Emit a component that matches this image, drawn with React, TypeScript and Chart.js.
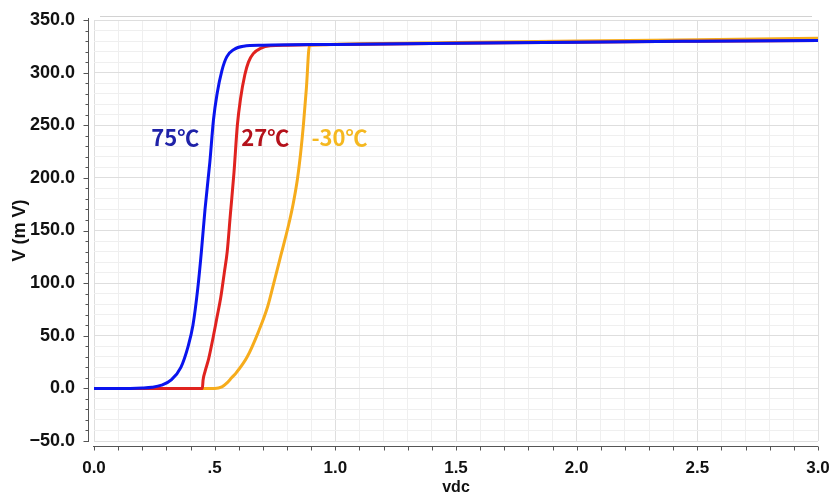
import React, { useEffect, useRef } from "react";
import { Chart, registerables } from "chart.js";

Chart.register(...registerables);

// 75°C curve (vdc [V], V [mV])
const blueX = [0, 0.15, 0.2, 0.24, 0.28, 0.32, 0.36, 0.39, 0.41, 0.43, 0.445, 0.46, 0.48, 0.495, 0.51, 0.53, 0.55, 0.58, 0.62, 0.7, 1.0, 1.5, 2.0, 2.5, 3.0];
const blueY = [0, 0, 0.3, 1, 3, 8, 20, 40, 60, 95, 130, 170, 215, 255, 280, 302, 315, 322, 325, 326, 326.8, 327.8, 328.9, 329.8, 330.6];

// 27°C curve
const redX = [0, 0.449, 0.452, 0.46, 0.475, 0.495, 0.51, 0.525, 0.54, 0.552, 0.565, 0.58, 0.594, 0.607, 0.625, 0.64, 0.66, 0.69, 0.73, 0.8, 1.0, 1.5, 2.0, 2.5, 3.0];
const redY = [0, 0, 8, 16, 28, 50, 68, 86, 110, 130, 165, 205, 250, 275, 298, 310, 318, 323, 325.5, 326, 326.8, 327.8, 328.9, 329.8, 330.6];

// -30°C curve
const orangeX = [0, 0.5, 0.53, 0.55, 0.57, 0.59, 0.635, 0.68, 0.72, 0.745, 0.775, 0.806, 0.825, 0.843, 0.856, 0.868, 0.88, 0.893, 0.95, 1.0, 1.5, 2.0, 2.5, 3.0];
const orangeY = [0, 0, 1.5, 5, 10, 15, 30, 53, 78, 100, 127, 155, 175, 199, 223, 251, 285, 326, 326.5, 327, 328.6, 330, 331.3, 332.6];

const seriesNames = ["75℃", "27℃", "-30℃"];
const lineColors = ["#0a14ee", "#e0231f", "#f6ac1c"];
const labelColors = ["#1f22a8", "#b4121b", "#f5b820"];
// annotation anchor positions in data units
const labelXs = [0.337, 0.71, 1.017];
const labelYs = [238, 238, 238];

const xTickValues = [0, 0.5, 1.0, 1.5, 2.0, 2.5, 3.0];
const xTickLabels = ["0.0", ".5", "1.0", "1.5", "2.0", "2.5", "3.0"];
const yTickValues = [-50, 0, 50, 100, 150, 200, 250, 300, 350];
const yTickLabels = ["\u221250.0", "0.0", "50.0", "100.0", "150.0", "200.0", "250.0", "300.0", "350.0"];

const near = (a: number, b: number) => Math.abs(a - b) < 1e-6;
const labelFor = (vals: number[], labels: string[], v: number) => {
  const i = vals.findIndex((t) => near(t, v));
  return i >= 0 ? labels[i] : "";
};

const pts = (xs: number[], ys: number[]) => xs.map((x, i) => ({ x, y: ys[i] }));

const SANS = "'Liberation Sans', Arial, sans-serif";

const axesPlugin = {
  id: "customAxes",
  afterDraw(chart: any) {
    const { ctx, chartArea, scales } = chart;
    const xs = scales.x;
    const ys = scales.y;
    ctx.save();
    // top frame line
    ctx.strokeStyle = "#d2d2d2";
    ctx.lineWidth = 1;
    ctx.beginPath();
    ctx.moveTo(100, 16.5);
    ctx.lineTo(812, 16.5);
    ctx.stroke();

    ctx.strokeStyle = "#555555";
    ctx.lineWidth = 1;
    // y axis line
    const ax = chartArea.left - 5.5;
    ctx.beginPath();
    ctx.moveTo(ax, ys.getPixelForValue(350) - 2);
    ctx.lineTo(ax, chartArea.bottom + 1);
    ctx.stroke();
    for (let v = -50; v <= 350; v += 10) {
      const y = Math.round(ys.getPixelForValue(v)) + 0.5;
      const len = v % 50 === 0 ? 5 : 3;
      ctx.beginPath();
      ctx.moveTo(ax - len, y);
      ctx.lineTo(ax, y);
      ctx.stroke();
    }
    // x axis line
    const ay = chartArea.bottom + 5.5;
    ctx.beginPath();
    ctx.moveTo(chartArea.left - 1, ay);
    ctx.lineTo(chartArea.right, ay);
    ctx.stroke();
    for (let i = 0; i <= 30; i++) {
      const x = Math.round(xs.getPixelForValue(i / 10)) + 0.5;
      ctx.beginPath();
      ctx.moveTo(x, ay);
      ctx.lineTo(x, ay + 4);
      ctx.stroke();
    }
    ctx.restore();
  },
  afterDatasetsDraw(chart: any) {
    const { ctx, scales } = chart;
    ctx.save();
    ctx.font = "bold 22px 'Noto Sans CJK SC', 'Noto Sans', sans-serif";
    ctx.textAlign = "center";
    ctx.textBaseline = "middle";
    seriesNames.forEach((name, i) => {
      ctx.fillStyle = labelColors[i];
      ctx.fillText(name, scales.x.getPixelForValue(labelXs[i]), scales.y.getPixelForValue(labelYs[i]));
    });
    ctx.restore();
  },
};

export default function App() {
  const ref = useRef<HTMLCanvasElement | null>(null);
  useEffect(() => {
    document.body.style.margin = "0";
    const canvas = ref.current;
    if (!canvas) return;
    const datasets = [
      { x: blueX, y: blueY },
      { x: redX, y: redY },
      { x: orangeX, y: orangeY },
    ].map((s, i) => ({
      label: seriesNames[i],
      data: pts(s.x, s.y),
      borderColor: lineColors[i],
      backgroundColor: lineColors[i],
      borderWidth: 3,
      pointRadius: 0,
      cubicInterpolationMode: "monotone" as const,
      fill: false,
    }));
    const chart = new Chart(canvas, {
      type: "line",
      data: { datasets },
      plugins: [axesPlugin],
      options: {
        animation: false,
        responsive: false,
        maintainAspectRatio: false,
        layout: { padding: { top: 20, right: 14, left: 0, bottom: 0 } },
        plugins: { legend: { display: false }, tooltip: { enabled: false } },
        scales: {
          x: {
            type: "linear",
            min: 0,
            max: 3,
            border: { display: false },
            grid: {
              drawTicks: false,
              color: (c: any) => (c.tick && xTickValues.some((t) => near(t, c.tick.value)) ? "#dedede" : "#efefef"),
              lineWidth: 1,
            },
            ticks: {
              stepSize: 0.1,
              autoSkip: false,
              maxRotation: 0,
              padding: 17,
              color: "#111111",
              font: { family: SANS, size: 17, weight: "bold" },
              callback: (v: any) => labelFor(xTickValues, xTickLabels, Number(v)),
            },
            title: {
              display: true,
              text: "vdc",
              color: "#111111",
              font: { family: SANS, size: 16, weight: "bold", lineHeight: 1 },
              padding: { top: 0, bottom: 2 },
            },
            afterFit: (s: any) => {
              s.height = 57;
              s.paddingLeft = 0;
              s.paddingRight = 0;
            },
          },
          y: {
            type: "linear",
            min: -50,
            max: 350,
            border: { display: false },
            grid: {
              drawTicks: false,
              color: (c: any) => (c.tick && yTickValues.some((t) => near(t, c.tick.value)) ? "#dedede" : "#efefef"),
              lineWidth: 1,
            },
            ticks: {
              stepSize: 10,
              autoSkip: false,
              padding: 19,
              color: "#111111",
              font: { family: SANS, size: 18, weight: "bold" },
              callback: (v: any) => labelFor(yTickValues, yTickLabels, Number(v)),
            },
            title: {
              display: true,
              text: "V (m V)",
              color: "#111111",
              font: { family: SANS, size: 18, weight: "bold" },
              padding: { top: 9, bottom: 4 },
            },
            afterFit: (s: any) => {
              s.width = 94;
              s.paddingTop = 0;
              s.paddingBottom = 0;
            },
          },
        },
      },
    });
    return () => chart.destroy();
  }, []);
  return (
    <div style={{ position: "absolute", left: 0, top: 0, width: 832, height: 498, background: "#ffffff" }}>
      <canvas ref={ref} width={832} height={498} style={{ width: 832, height: 498, display: "block" }} />
    </div>
  );
}
